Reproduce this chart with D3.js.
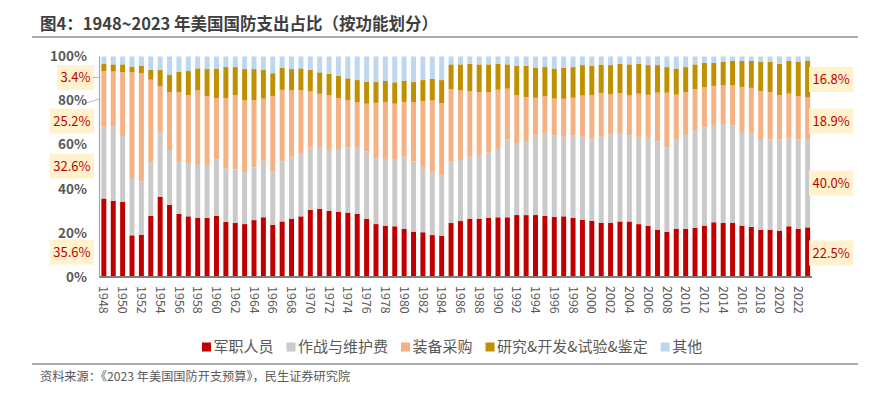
<!DOCTYPE html>
<html>
<head>
<meta charset="utf-8">
<script src="https://cdn.jsdelivr.net/npm/d3@7"></script>
<style>
  body { margin: 0; background: #fff; }
  svg { display: block; font-family: "Noto Sans CJK SC", "Noto Sans", sans-serif; }
</style>
</head>
<body>
<div id="wrapper"></div>
<script>
// years on the x axis
const years = d3.range(1948, 2024)

// shares by function, % of total
const personnel = [35.6, 34.6, 34.2, 18.9, 19.2, 27.7, 36.4, 32.7, 28.6, 27.5,
    26.8, 26.8, 27.8, 25.1, 24.6, 24.0, 25.8, 27.1, 23.6, 25.2,
    26.5, 27.5, 30.4, 31.0, 29.9, 29.6, 29.2, 28.6, 26.3, 24.0,
    23.3, 23.0, 21.8, 20.6, 20.3, 19.0, 18.7, 24.5, 25.4, 26.5,
    26.5, 26.9, 27.1, 27.1, 28.1, 28.1, 28.1, 27.8, 27.2, 27.5,
    26.9, 26.0, 25.5, 24.6, 24.6, 25.2, 25.2, 24.0, 23.3, 21.5,
    20.4, 21.9, 21.9, 22.4, 23.3, 24.8, 24.5, 24.5, 23.3, 22.7,
    21.5, 21.5, 21.0, 23.0, 21.9, 22.5]
const operations = [32.6, 33.9, 29.8, 26.0, 24.2, 24.5, 29.2, 24.9, 24.0, 24.2,
    24.5, 24.0, 25.5, 24.2, 24.2, 23.6, 23.9, 25.4, 24.3, 27.2,
    28.1, 28.7, 28.6, 28.0, 28.1, 28.4, 29.6, 30.4, 30.7, 29.9,
    30.2, 30.5, 32.8, 31.9, 29.6, 29.0, 27.5, 28.1, 27.7, 28.1,
    28.9, 29.6, 30.7, 35.4, 32.7, 33.6, 36.0, 37.5, 36.9, 36.1,
    37.2, 37.6, 37.3, 39.0, 40.2, 40.1, 39.2, 39.5, 39.9, 40.1,
    38.2, 40.7, 42.5, 44.3, 44.4, 44.1, 44.9, 44.1, 42.5, 42.6,
    40.7, 41.0, 41.4, 39.8, 40.5, 40.0]
const procurement = [25.2, 24.8, 28.9, 47.9, 49.1, 37.3, 21.0, 26.3, 31.3, 30.7,
    33.4, 31.3, 27.8, 31.9, 33.6, 32.5, 30.4, 28.4, 34.2, 32.5,
    30.1, 28.4, 25.2, 24.2, 24.3, 23.1, 21.3, 20.4, 21.6, 25.1,
    25.9, 25.1, 24.8, 26.9, 29.9, 32.0, 32.7, 32.7, 31.6, 29.8,
    28.6, 27.4, 27.2, 23.0, 21.6, 20.0, 17.2, 16.8, 16.8, 17.2,
    17.2, 18.7, 19.7, 19.8, 18.0, 18.1, 18.0, 19.7, 19.5, 22.1,
    24.9, 20.1, 19.5, 18.6, 18.4, 17.7, 17.5, 18.3, 20.4, 20.4,
    22.2, 21.5, 20.1, 20.4, 19.7, 18.9]
const rdte = [3.4, 3.2, 3.6, 2.6, 3.2, 4.5, 7.3, 7.7, 9.1, 11.0,
    10.0, 12.2, 13.3, 14.1, 12.8, 14.2, 14.2, 13.0, 10.3, 10.0,
    9.7, 10.0, 9.8, 9.7, 9.7, 10.0, 10.0, 10.0, 10.0, 9.4,
    9.5, 9.7, 9.5, 9.1, 9.5, 9.7, 10.4, 11.2, 11.8, 12.4,
    12.5, 12.5, 11.8, 11.0, 13.3, 14.1, 13.6, 13.2, 13.6, 14.1,
    13.9, 13.8, 13.2, 12.8, 13.3, 13.3, 14.1, 13.6, 13.5, 12.5,
    11.6, 11.8, 11.3, 11.2, 10.9, 10.4, 10.6, 11.0, 11.8, 12.2,
    13.2, 13.6, 14.2, 14.8, 15.4, 16.8]
const other = [3.2, 3.6, 3.6, 4.6, 4.3, 6.0, 6.1, 8.4, 7.0, 6.6,
    5.4, 5.7, 5.5, 4.8, 4.8, 5.7, 5.7, 6.1, 7.6, 5.1,
    5.7, 5.4, 6.0, 7.2, 7.9, 8.8, 9.9, 10.7, 11.4, 11.6,
    11.1, 11.7, 11.1, 11.6, 10.7, 10.2, 10.7, 3.6, 3.6, 3.3,
    3.6, 3.6, 3.3, 3.6, 4.3, 4.3, 5.1, 4.8, 5.5, 5.1,
    4.8, 3.9, 4.3, 3.7, 3.9, 3.3, 3.6, 3.3, 3.9, 3.9,
    4.8, 5.5, 4.8, 3.6, 2.9, 2.9, 2.5, 2.0, 2.0, 2.0,
    2.5, 2.5, 3.3, 2.0, 2.5, 1.8]

const seriesNames = ["军职人员", "作战与维护费", "装备采购", "研究&开发&试验&鉴定", "其他"]
const seriesKeys = ["personnel", "operations", "procurement", "rdte", "other"]
const colors = ["#C00000", "#CACACA", "#F4B183", "#BF9000", "#BDD7EE"]

const yTicks = [0, 0.2, 0.4, 0.6, 0.8, 1]

// call-out labels for first and last year, with the share level they sit at
const leftNotes = [
    { text: "3.4%", at: 0.905 },
    { text: "25.2%", at: 0.707 },
    { text: "32.6%", at: 0.503 },
    { text: "35.6%", at: 0.113 },
]
const rightNotes = [
    { text: "16.8%", at: 0.896 },
    { text: "18.9%", at: 0.707 },
    { text: "40.0%", at: 0.426 },
    { text: "22.5%", at: 0.109 },
]

const table = years.map((yr, i) => ({
    year: yr,
    personnel: personnel[i],
    operations: operations[i],
    procurement: procurement[i],
    rdte: rdte[i],
    other: other[i],
}))

function drawChart() {
    let dimensions = {
        width: 890,
        height: 394,
        margin: { top: 56.5, right: 78, bottom: 117, left: 99.5 },
    }
    dimensions.boundedBottom = dimensions.height - dimensions.margin.bottom

    const svg = d3.select("#wrapper")
        .append("svg")
            .attr("width", dimensions.width)
            .attr("height", dimensions.height)

    // title + rule
    svg.append("text")
        .attr("x", 40)
        .attr("y", 30)
        .attr("font-size", 16.5)
        .attr("font-weight", "bold")
        .attr("fill", "#3F3F3F")
        .text("图4：1948~2023 年美国国防支出占比（按功能划分）")
    svg.append("line")
        .attr("x1", 32).attr("x2", 858)
        .attr("y1", 37).attr("y2", 37)
        .attr("stroke", "#595959").attr("stroke-width", 1.2)

    const xScale = d3.scaleBand()
        .domain(years)
        .range([dimensions.margin.left, dimensions.width - dimensions.margin.right])
        .paddingInner(0.47)
        .paddingOuter(0.2)

    const yScale = d3.scaleLinear()
        .domain([0, 1])
        .range([dimensions.boundedBottom, dimensions.margin.top])

    const stack = d3.stack()
        .keys(seriesKeys)
        .offset(d3.stackOffsetExpand)
    const layers = stack(table)

    const bars = svg.append("g")
    bars.selectAll("g")
        .data(layers)
        .join("g")
            .attr("fill", (d, i) => colors[i])
        .selectAll("rect")
        .data(d => d)
        .join("rect")
            .attr("x", d => xScale(d.data.year))
            .attr("width", xScale.bandwidth())
            .attr("y", d => yScale(d[1]))
            .attr("height", d => yScale(d[0]) - yScale(d[1]))

    // y axis
    svg.append("line")
        .attr("x1", dimensions.margin.left).attr("x2", dimensions.margin.left)
        .attr("y1", yScale(1)).attr("y2", yScale(0))
        .attr("stroke", "#A6A6A6").attr("stroke-width", 1.2)

    svg.append("g")
        .selectAll("text")
        .data(yTicks)
        .join("text")
            .attr("x", 87)
            .attr("y", d => yScale(d))
            .attr("dy", "0.35em")
            .attr("text-anchor", "end")
            .attr("font-size", 13.5)
            .attr("font-weight", "bold")
            .attr("fill", "#595959")
            .text(d => d3.format(".0%")(d))

    // x axis
    svg.append("line")
        .attr("x1", dimensions.margin.left).attr("x2", dimensions.width - dimensions.margin.right)
        .attr("y1", yScale(0)).attr("y2", yScale(0))
        .attr("stroke", "#7F7F7F").attr("stroke-width", 2)

    svg.append("g")
        .selectAll("text")
        .data(years.filter(y => y % 2 === 0))
        .join("text")
            .attr("transform", d => `translate(${xScale(d) + xScale.bandwidth() / 2},${yScale(0) + 9}) rotate(90)`)
            .attr("dy", "0.35em")
            .attr("font-size", 12.5)
            .attr("fill", "#595959")
            .text(d => d)

    // call-outs
    function drawNotes(notes, anchorX, side) {
        const g = svg.append("g")
        notes.forEach(n => {
            const cy = yScale(n.at)
            const t = g.append("text")
                .attr("y", cy)
                .attr("dy", "0.35em")
                .attr("font-size", 13)
                .attr("fill", "#C00000")
                .text(n.text)
            const w = t.node().getComputedTextLength()
            const boxW = w + 7
            const bx = side === "left" ? anchorX - boxW : anchorX
            t.attr("x", bx + 3.5)
            g.insert("rect", "text")
                .attr("x", bx)
                .attr("y", cy - 12.5)
                .attr("width", boxW)
                .attr("height", 25)
                .attr("fill", "#FFF2CC")
        })
        return g
    }
    drawNotes(leftNotes, 94, "left")
    drawNotes(rightNotes, 809, "right")

    // leader lines for the two top-left call-outs
    svg.append("line")
        .attr("x1", 93).attr("x2", dimensions.margin.left)
        .attr("y1", yScale(0.905)).attr("y2", yScale(0.905))
        .attr("stroke", "#A6A6A6").attr("stroke-width", 0.8)
    svg.append("line")
        .attr("x1", 87).attr("x2", dimensions.margin.left)
        .attr("y1", yScale(0.79)).attr("y2", yScale(0.807))
        .attr("stroke", "#A6A6A6").attr("stroke-width", 0.8)

    // legend
    const legend = svg.append("g")
    let lx = 202
    seriesNames.forEach((name, i) => {
        legend.append("rect")
            .attr("x", lx)
            .attr("y", 342.5)
            .attr("width", 9)
            .attr("height", 9)
            .attr("fill", colors[i])
        const t = legend.append("text")
            .attr("x", lx + 11.5)
            .attr("y", 347)
            .attr("dy", "0.35em")
            .attr("font-size", 15)
            .attr("fill", "#595959")
            .text(name)
        lx += 11.5 + t.node().getComputedTextLength() + 13
    })

    // bottom rule + source
    svg.append("line")
        .attr("x1", 32).attr("x2", 858)
        .attr("y1", 364).attr("y2", 364)
        .attr("stroke", "#595959").attr("stroke-width", 1.2)
    svg.append("text")
        .attr("x", 40)
        .attr("y", 377)
        .attr("dy", "0.35em")
        .attr("font-size", 12.2)
        .attr("fill", "#595959")
        .text("资料来源：《2023 年美国国防开支预算》，民生证券研究院")
}

drawChart()
</script>
</body>
</html>
